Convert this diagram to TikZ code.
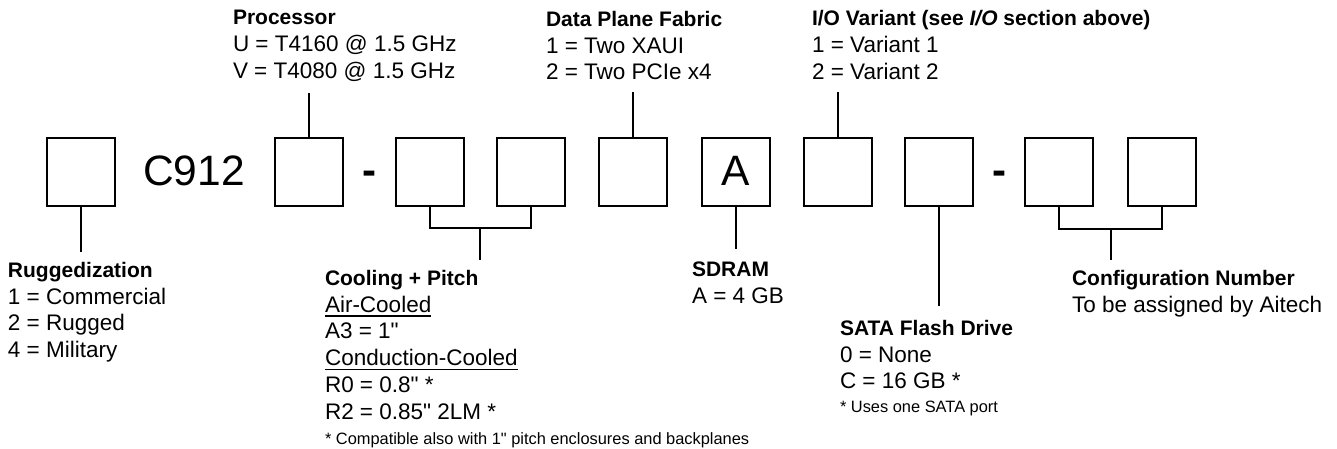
\documentclass[tikz,border=0pt]{standalone}
\usepackage{fontspec}
\setmainfont{Liberation Sans}[Ligatures=TeXOff]
\newcommand\hd[1]{{\fontsize{21}{26.8}\selectfont\bfseries #1}}
\newcommand\myul[1]{\leavevmode\setbox0=\hbox{#1}\rlap{\rule[-4.5pt]{\wd0}{1.5pt}}\box0}
\tikzset{
  box/.style={draw, line width=2pt, minimum size=68pt, inner sep=0pt, outer sep=0pt},
  conn/.style={line width=2pt},
  lbl/.style={anchor=north west, inner sep=0pt, outer sep=0pt, align=left, font=\fontsize{22.5}{26.8}\selectfont},
  smallnote/.style={anchor=north west, inner sep=0pt, outer sep=0pt, font=\fontsize{16.4}{19}\selectfont},
  big/.style={anchor=base, inner sep=0pt, outer sep=0pt, font=\fontsize{42.5}{50}\selectfont},
  sep/.style={anchor=base, inner sep=0pt, outer sep=0pt, font=\fontsize{42}{48}\selectfont\bfseries},
}
\begin{document}
\begin{tikzpicture}[x=1pt,y=-1pt]
\useasboundingbox (0,0) rectangle (1337,448);
% code boxes
\node[box] (b1) at (81,172) {};
\node[big] (c912) at (194,185) {C912};
\node[box] (b2) at (309,172) {};
\node[sep] (d1) at (369.5,184) {-};
\node[box] (b3) at (429.5,172) {};
\node[box] (b4) at (531,172) {};
\node[box] (b5) at (633,172) {};
\node[box] (b6) at (735.5,172) {};
\node[big] (a6) at (735.5,185) {A};
\node[box] (b7) at (837.5,172) {};
\node[box] (b8) at (939,172) {};
\node[sep] (d2) at (999,184) {-};
\node[box] (b9) at (1059,172) {};
\node[box] (b10) at (1162,172) {};
% labels
\node[lbl] (proc) at (233,10.5) {\hd{Processor}\\U = T4160 @ 1.5 GHz\\V = T4080 @ 1.5 GHz};
\node[lbl] (dpf) at (546,11) {\hd{Data Plane Fabric}\\1 = Two XAUI\\2 = Two PCIe x4};
\node[lbl] (iov) at (812,10.5) {\hd{I/O Variant (see \textit{I/O} section above)}\\1 = Variant 1\\2 = Variant 2};
\node[lbl] (rug) at (8,262) {\hd{Ruggedization}\\1 = Commercial\\2 = Rugged\\4 = Military};
\node[lbl] (cool) at (325,270) {\hd{Cooling + Pitch}\\\myul{Air-Cooled}\\A3 = 1"\\\myul{Conduction-Cooled}\\R0 = 0.8" *\\R2 = 0.85" 2LM *};
\node[smallnote] (coolnote) at (325,433) {* Compatible also with 1" pitch enclosures and backplanes};
\node[lbl] (sdram) at (692,262) {\hd{SDRAM}\\A = 4 GB};
\node[lbl] (sata) at (840,320) {\hd{SATA Flash Drive}\\0 = None\\C = 16 GB *};
\node[smallnote] (satanote) at (840,401) {* Uses one SATA port};
\node[lbl] (cfg) at (1072,270) {\hd{Configuration Number}\\To be assigned by Aitech};
% connectors
\coordinate (rugT) at (b1.south |- 0,252);
\draw[conn] (b1.south) -- (rugT);
\coordinate (procB) at (b2.north |- 0,93);
\draw[conn] (procB) -- (b2.north);
\coordinate (coolJ) at (480.25,228);
\coordinate (coolT) at (480.25,260);
\draw[conn] (b3.south) |- (coolJ) -| (b4.south);
\draw[conn] (coolJ) -- (coolT);
\coordinate (dpfB) at (b5.north |- 0,92);
\draw[conn] (dpfB) -- (b5.north);
\coordinate (sdT) at (b6.south |- 0,249);
\draw[conn] (b6.south) -- (sdT);
\coordinate (iovB) at (b7.north |- 0,92);
\draw[conn] (iovB) -- (b7.north);
\coordinate (sataT) at (b8.south |- 0,306);
\draw[conn] (b8.south) -- (sataT);
\coordinate (cfgJ) at (1110.5,229);
\coordinate (cfgT) at (1110.5,260);
\draw[conn] (b9.south) |- (cfgJ) -| (b10.south);
\draw[conn] (cfgJ) -- (cfgT);
\end{tikzpicture}
\end{document}
